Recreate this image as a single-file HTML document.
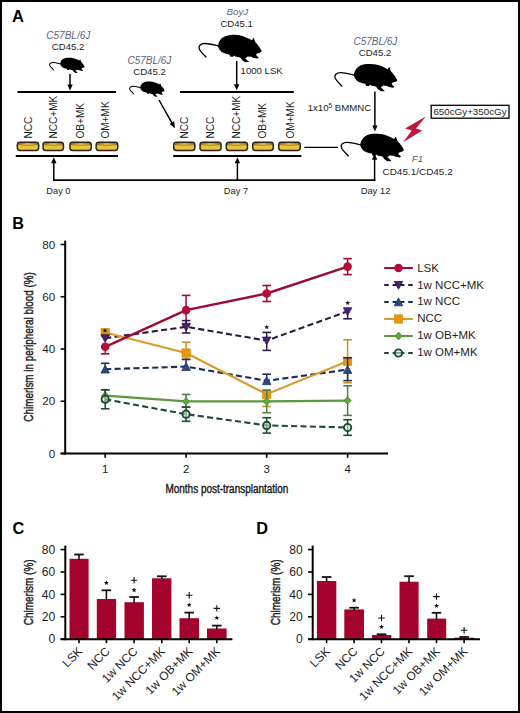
<!DOCTYPE html><html><head><meta charset="utf-8"><style>html,body{margin:0;padding:0;background:#fff;}svg{display:block;}</style></head><body>
<svg width="520" height="713" viewBox="0 0 520 713" font-family='"Liberation Sans", sans-serif'>
<rect x="0" y="0" width="520" height="713" fill="#fff"/>
<rect x="1" y="1" width="518" height="711" fill="none" stroke="#000" stroke-width="2"/>
<text x="12.1" y="22.0" font-size="16.5" text-anchor="start" fill="#000"  font-weight="bold"  >A</text>
<text x="68.3" y="38.6" font-size="10.0" text-anchor="middle" fill="#58637b"  font-weight="normal" font-style="italic" >C57BL/6J</text>
<text x="68.1" y="49.9" font-size="9.6" text-anchor="middle" fill="#1e1e1e"  font-weight="normal"  >CD45.2</text>
<g transform="translate(-61.27,38.19) scale(0.558)"><path d="M 217.8 45.7 C 218.5 42 220 39 222.5 37.5 C 225 35.8 228 35 231 34.9 C 235 34.8 238 35 240 35.4 C 244 36.2 248 38 251.8 40.2 L 253.4 37.5 L 255.2 42.3 C 256.5 43.5 257.5 44.6 258 45.7 C 259.2 47 260.2 48.4 260.8 49.8 C 261.4 50.6 261.5 51.3 261.2 51.8 C 260.5 52.5 259.5 52.8 258.7 52.9 L 255.9 54 L 256.6 56.1 L 258.7 57.4 L 257.3 58.6 L 253.2 57.9 L 251.1 56.8 L 247.6 56.5 L 244.9 58.2 L 247.6 60.7 L 249 62.1 L 244.9 62.3 L 242.1 60.3 L 240 57.5 L 235.1 56.5 L 233.8 55.6 L 233.1 56.8 L 230.3 56.8 L 229.3 54.7 C 227 54.2 225.5 53.8 224.1 53.3 C 222 52.5 220.5 51.5 219.8 50.3 C 218.8 49 218 47.5 217.8 45.7 Z" fill="#000"/><path d="M 218.6 46 C 214 45 209 43.4 204.5 43.5 C 200.5 43.6 198.3 45.7 198.9 48.3 C 199.6 51 202.6 53.8 205.8 56.9" fill="none" stroke="#000" stroke-width="1.8" stroke-linecap="round"/></g>
<line x1="70" y1="74" x2="70" y2="85.5" stroke="#000" stroke-width="1.5"/>
<path d="M 67.3 84.5 L 72.7 84.5 L 70 90.5 Z" fill="#000"/>
<line x1="17.5" y1="92.1" x2="116" y2="92.1" stroke="#000" stroke-width="2"/>
<rect x="17.35" y="142.25" width="21.299999999999997" height="8.199999999999989" rx="2.6" ry="2.6" fill="#e9bd2c" stroke="#2b2210" stroke-width="1.5"/>
<path d="M 18.200000000000003 143.7 Q 28.0 142.1 37.8 143.7 L 37.8 144.5 Q 28.0 145.9 18.200000000000003 144.5 Z" fill="#f5d458" stroke="#4a3812" stroke-width="0.55"/>
<rect x="18.6" y="146.5" width="18.799999999999997" height="2" fill="#f0cf4c" opacity="0.6"/>
<rect x="43.05" y="142.25" width="20.400000000000006" height="8.199999999999989" rx="2.6" ry="2.6" fill="#e9bd2c" stroke="#2b2210" stroke-width="1.5"/>
<path d="M 43.9 143.7 Q 53.25 142.1 62.6 143.7 L 62.6 144.5 Q 53.25 145.9 43.9 144.5 Z" fill="#f5d458" stroke="#4a3812" stroke-width="0.55"/>
<rect x="44.3" y="146.5" width="17.900000000000006" height="2" fill="#f0cf4c" opacity="0.6"/>
<rect x="69.95" y="142.25" width="21.299999999999997" height="8.199999999999989" rx="2.6" ry="2.6" fill="#e9bd2c" stroke="#2b2210" stroke-width="1.5"/>
<path d="M 70.8 143.7 Q 80.6 142.1 90.4 143.7 L 90.4 144.5 Q 80.6 145.9 70.8 144.5 Z" fill="#f5d458" stroke="#4a3812" stroke-width="0.55"/>
<rect x="71.2" y="146.5" width="18.799999999999997" height="2" fill="#f0cf4c" opacity="0.6"/>
<rect x="96.15" y="142.25" width="21.599999999999994" height="8.199999999999989" rx="2.6" ry="2.6" fill="#e9bd2c" stroke="#2b2210" stroke-width="1.5"/>
<path d="M 97.0 143.7 Q 106.95 142.1 116.9 143.7 L 116.9 144.5 Q 106.95 145.9 97.0 144.5 Z" fill="#f5d458" stroke="#4a3812" stroke-width="0.55"/>
<rect x="97.4" y="146.5" width="19.099999999999994" height="2" fill="#f0cf4c" opacity="0.6"/>
<line x1="15.8" y1="155.9" x2="118" y2="155.9" stroke="#000" stroke-width="2"/>
<text transform="translate(31.599999999999998,138.6) rotate(-90)" font-size="10.1" fill="#1e1e1e">NCC</text>
<text transform="translate(56.8,138.6) rotate(-90)" font-size="10.1" fill="#1e1e1e">NCC+MK</text>
<text transform="translate(83.7,138.6) rotate(-90)" font-size="10.1" fill="#1e1e1e">OB+MK</text>
<text transform="translate(109.4,138.6) rotate(-90)" font-size="10.1" fill="#1e1e1e">OM+MK</text>
<line x1="53.8" y1="162.2" x2="53.8" y2="181" stroke="#000" stroke-width="1.5"/>
<path d="M 51.099999999999994 163.2 L 56.5 163.2 L 53.8 157.2 Z" fill="#000"/>
<line x1="53.1" y1="180.2" x2="375.4" y2="180.2" stroke="#000" stroke-width="1.7"/>
<text x="58.4" y="193.7" font-size="9.3" text-anchor="middle" fill="#1e1e1e"  font-weight="normal"  >Day 0</text>
<text x="149.4" y="64.1" font-size="10.0" text-anchor="middle" fill="#58637b"  font-weight="normal" font-style="italic" >C57BL/6J</text>
<text x="149.5" y="75.4" font-size="9.6" text-anchor="middle" fill="#1e1e1e"  font-weight="normal"  >CD45.2</text>
<g transform="translate(18.73,62.09) scale(0.558)"><path d="M 217.8 45.7 C 218.5 42 220 39 222.5 37.5 C 225 35.8 228 35 231 34.9 C 235 34.8 238 35 240 35.4 C 244 36.2 248 38 251.8 40.2 L 253.4 37.5 L 255.2 42.3 C 256.5 43.5 257.5 44.6 258 45.7 C 259.2 47 260.2 48.4 260.8 49.8 C 261.4 50.6 261.5 51.3 261.2 51.8 C 260.5 52.5 259.5 52.8 258.7 52.9 L 255.9 54 L 256.6 56.1 L 258.7 57.4 L 257.3 58.6 L 253.2 57.9 L 251.1 56.8 L 247.6 56.5 L 244.9 58.2 L 247.6 60.7 L 249 62.1 L 244.9 62.3 L 242.1 60.3 L 240 57.5 L 235.1 56.5 L 233.8 55.6 L 233.1 56.8 L 230.3 56.8 L 229.3 54.7 C 227 54.2 225.5 53.8 224.1 53.3 C 222 52.5 220.5 51.5 219.8 50.3 C 218.8 49 218 47.5 217.8 45.7 Z" fill="#000"/><path d="M 218.6 46 C 214 45 209 43.4 204.5 43.5 C 200.5 43.6 198.3 45.7 198.9 48.3 C 199.6 51 202.6 53.8 205.8 56.9" fill="none" stroke="#000" stroke-width="1.8" stroke-linecap="round"/></g>
<line x1="159" y1="100" x2="172.3" y2="123.6" stroke="#000" stroke-width="1.5"/>
<path d="M 175 128.2 L 169.6 123.9 L 174.2 121.3 Z" fill="#000"/>
<text x="237.3" y="14.8" font-size="9.8" text-anchor="middle" fill="#58637b"  font-weight="normal" font-style="italic" >BoyJ</text>
<text x="236.7" y="27.1" font-size="9.6" text-anchor="middle" fill="#1e1e1e"  font-weight="normal"  >CD45.1</text>
<g transform="translate(0.20,0.00) scale(1.0)"><path d="M 217.8 45.7 C 218.5 42 220 39 222.5 37.5 C 225 35.8 228 35 231 34.9 C 235 34.8 238 35 240 35.4 C 244 36.2 248 38 251.8 40.2 L 253.4 37.5 L 255.2 42.3 C 256.5 43.5 257.5 44.6 258 45.7 C 259.2 47 260.2 48.4 260.8 49.8 C 261.4 50.6 261.5 51.3 261.2 51.8 C 260.5 52.5 259.5 52.8 258.7 52.9 L 255.9 54 L 256.6 56.1 L 258.7 57.4 L 257.3 58.6 L 253.2 57.9 L 251.1 56.8 L 247.6 56.5 L 244.9 58.2 L 247.6 60.7 L 249 62.1 L 244.9 62.3 L 242.1 60.3 L 240 57.5 L 235.1 56.5 L 233.8 55.6 L 233.1 56.8 L 230.3 56.8 L 229.3 54.7 C 227 54.2 225.5 53.8 224.1 53.3 C 222 52.5 220.5 51.5 219.8 50.3 C 218.8 49 218 47.5 217.8 45.7 Z" fill="#000"/><path d="M 218.6 46 C 214 45 209 43.4 204.5 43.5 C 200.5 43.6 198.3 45.7 198.9 48.3 C 199.6 51 202.6 53.8 205.8 56.9" fill="none" stroke="#000" stroke-width="1.35" stroke-linecap="round"/></g>
<line x1="236.7" y1="61" x2="236.7" y2="85.2" stroke="#000" stroke-width="1.5"/>
<path d="M 234.0 84.2 L 239.39999999999998 84.2 L 236.7 90.2 Z" fill="#000"/>
<text x="240.6" y="73.9" font-size="9.6" text-anchor="start" fill="#1e1e1e"  font-weight="normal"  >1000 LSK</text>
<line x1="180" y1="92.1" x2="293.8" y2="92.1" stroke="#000" stroke-width="2"/>
<rect x="173.75" y="142.25" width="21.099999999999994" height="8.199999999999989" rx="2.6" ry="2.6" fill="#e9bd2c" stroke="#2b2210" stroke-width="1.5"/>
<path d="M 174.6 143.7 Q 184.3 142.1 194.0 143.7 L 194.0 144.5 Q 184.3 145.9 174.6 144.5 Z" fill="#f5d458" stroke="#4a3812" stroke-width="0.55"/>
<rect x="175" y="146.5" width="18.599999999999994" height="2" fill="#f0cf4c" opacity="0.6"/>
<rect x="200.05" y="142.25" width="21.0" height="8.199999999999989" rx="2.6" ry="2.6" fill="#e9bd2c" stroke="#2b2210" stroke-width="1.5"/>
<path d="M 200.9 143.7 Q 210.55 142.1 220.20000000000002 143.7 L 220.20000000000002 144.5 Q 210.55 145.9 200.9 144.5 Z" fill="#f5d458" stroke="#4a3812" stroke-width="0.55"/>
<rect x="201.3" y="146.5" width="18.5" height="2" fill="#f0cf4c" opacity="0.6"/>
<rect x="226.25" y="142.25" width="21.19999999999999" height="8.199999999999989" rx="2.6" ry="2.6" fill="#e9bd2c" stroke="#2b2210" stroke-width="1.5"/>
<path d="M 227.1 143.7 Q 236.85 142.1 246.6 143.7 L 246.6 144.5 Q 236.85 145.9 227.1 144.5 Z" fill="#f5d458" stroke="#4a3812" stroke-width="0.55"/>
<rect x="227.5" y="146.5" width="18.69999999999999" height="2" fill="#f0cf4c" opacity="0.6"/>
<rect x="252.75" y="142.25" width="20.5" height="8.199999999999989" rx="2.6" ry="2.6" fill="#e9bd2c" stroke="#2b2210" stroke-width="1.5"/>
<path d="M 253.6 143.7 Q 263.0 142.1 272.4 143.7 L 272.4 144.5 Q 263.0 145.9 253.6 144.5 Z" fill="#f5d458" stroke="#4a3812" stroke-width="0.55"/>
<rect x="254" y="146.5" width="18" height="2" fill="#f0cf4c" opacity="0.6"/>
<rect x="278.75" y="142.25" width="21.5" height="8.199999999999989" rx="2.6" ry="2.6" fill="#e9bd2c" stroke="#2b2210" stroke-width="1.5"/>
<path d="M 279.6 143.7 Q 289.5 142.1 299.4 143.7 L 299.4 144.5 Q 289.5 145.9 279.6 144.5 Z" fill="#f5d458" stroke="#4a3812" stroke-width="0.55"/>
<rect x="280" y="146.5" width="19" height="2" fill="#f0cf4c" opacity="0.6"/>
<line x1="173.2" y1="155.9" x2="301.4" y2="155.9" stroke="#000" stroke-width="2"/>
<text transform="translate(187.8,138.6) rotate(-90)" font-size="10.1" fill="#1e1e1e">NCC</text>
<text transform="translate(214.20000000000002,138.6) rotate(-90)" font-size="10.1" fill="#1e1e1e">NCC</text>
<text transform="translate(239.9,138.6) rotate(-90)" font-size="10.1" fill="#1e1e1e">NCC+MK</text>
<text transform="translate(265.59999999999997,138.6) rotate(-90)" font-size="10.1" fill="#1e1e1e">OB+MK</text>
<text transform="translate(293.7,138.6) rotate(-90)" font-size="10.1" fill="#1e1e1e">OM+MK</text>
<line x1="237.4" y1="162.2" x2="237.4" y2="181" stroke="#000" stroke-width="1.5"/>
<path d="M 234.70000000000002 163.2 L 240.1 163.2 L 237.4 157.2 Z" fill="#000"/>
<text x="236" y="193.6" font-size="9.3" text-anchor="middle" fill="#1e1e1e"  font-weight="normal"  >Day 7</text>
<line x1="304.4" y1="147.4" x2="338" y2="147.4" stroke="#000" stroke-width="1.4"/>
<text x="375.4" y="44.9" font-size="10.0" text-anchor="middle" fill="#58637b"  font-weight="normal" font-style="italic" >C57BL/6J</text>
<text x="375" y="55.8" font-size="9.6" text-anchor="middle" fill="#1e1e1e"  font-weight="normal"  >CD45.2</text>
<g transform="translate(137.09,29.37) scale(0.995)"><path d="M 217.8 45.7 C 218.5 42 220 39 222.5 37.5 C 225 35.8 228 35 231 34.9 C 235 34.8 238 35 240 35.4 C 244 36.2 248 38 251.8 40.2 L 253.4 37.5 L 255.2 42.3 C 256.5 43.5 257.5 44.6 258 45.7 C 259.2 47 260.2 48.4 260.8 49.8 C 261.4 50.6 261.5 51.3 261.2 51.8 C 260.5 52.5 259.5 52.8 258.7 52.9 L 255.9 54 L 256.6 56.1 L 258.7 57.4 L 257.3 58.6 L 253.2 57.9 L 251.1 56.8 L 247.6 56.5 L 244.9 58.2 L 247.6 60.7 L 249 62.1 L 244.9 62.3 L 242.1 60.3 L 240 57.5 L 235.1 56.5 L 233.8 55.6 L 233.1 56.8 L 230.3 56.8 L 229.3 54.7 C 227 54.2 225.5 53.8 224.1 53.3 C 222 52.5 220.5 51.5 219.8 50.3 C 218.8 49 218 47.5 217.8 45.7 Z" fill="#000"/><path d="M 218.6 46 C 214 45 209 43.4 204.5 43.5 C 200.5 43.6 198.3 45.7 198.9 48.3 C 199.6 51 202.6 53.8 205.8 56.9" fill="none" stroke="#000" stroke-width="1.35" stroke-linecap="round"/></g>
<line x1="374.9" y1="91.4" x2="374.9" y2="126.6" stroke="#000" stroke-width="1.5"/>
<path d="M 372.2 125.6 L 377.59999999999997 125.6 L 374.9 131.6 Z" fill="#000"/>
<text x="307.7" y="111.3" font-size="9.6" fill="#1e1e1e">1x10<tspan font-size="6.6" dy="-3.6">5</tspan><tspan dy="3.6"> BMMNC</tspan></text>
<g transform="translate(142.40,98.90) scale(1.0)"><path d="M 217.8 45.7 C 218.5 42 220 39 222.5 37.5 C 225 35.8 228 35 231 34.9 C 235 34.8 238 35 240 35.4 C 244 36.2 248 38 251.8 40.2 L 253.4 37.5 L 255.2 42.3 C 256.5 43.5 257.5 44.6 258 45.7 C 259.2 47 260.2 48.4 260.8 49.8 C 261.4 50.6 261.5 51.3 261.2 51.8 C 260.5 52.5 259.5 52.8 258.7 52.9 L 255.9 54 L 256.6 56.1 L 258.7 57.4 L 257.3 58.6 L 253.2 57.9 L 251.1 56.8 L 247.6 56.5 L 244.9 58.2 L 247.6 60.7 L 249 62.1 L 244.9 62.3 L 242.1 60.3 L 240 57.5 L 235.1 56.5 L 233.8 55.6 L 233.1 56.8 L 230.3 56.8 L 229.3 54.7 C 227 54.2 225.5 53.8 224.1 53.3 C 222 52.5 220.5 51.5 219.8 50.3 C 218.8 49 218 47.5 217.8 45.7 Z" fill="#000"/><path d="M 218.6 46 C 214 45 209 43.4 204.5 43.5 C 200.5 43.6 198.3 45.7 198.9 48.3 C 199.6 51 202.6 53.8 205.8 56.9" fill="none" stroke="#000" stroke-width="1.35" stroke-linecap="round"/></g>
<line x1="374.6" y1="158.8" x2="374.6" y2="181" stroke="#000" stroke-width="1.5"/>
<path d="M 371.90000000000003 159.8 L 377.3 159.8 L 374.6 153.8 Z" fill="#000"/>
<text x="375.5" y="193.6" font-size="9.4" text-anchor="middle" fill="#1e1e1e"  font-weight="normal"  >Day 12</text>
<path d="M 425.8 116.5 L 405 128.5 L 411.8 130.4 L 403.1 142.3 L 422.3 130.4 L 416 128.5 Z" fill="#c0143c"/>
<rect x="431.2" y="105.3" width="77.8" height="12.9" fill="#fff" stroke="#000" stroke-width="1.3"/>
<text x="470" y="115.3" font-size="9.8" text-anchor="middle" fill="#1e1e1e"  font-weight="normal"  >650cGy+350cGy</text>
<text x="417.4" y="162.4" font-size="9.6" text-anchor="middle" fill="#5a5a5a"  font-weight="normal" font-style="italic" >F1</text>
<text x="417.6" y="174.5" font-size="9.95" text-anchor="middle" fill="#1e1e1e"  font-weight="normal"  >CD45.1/CD45.2</text>
<text x="12.3" y="228.9" font-size="16.3" text-anchor="start" fill="#000"  font-weight="bold"  >B</text>
<line x1="65.2" y1="240.6" x2="65.2" y2="454.5" stroke="#000" stroke-width="2"/>
<line x1="60.6" y1="453.5" x2="388" y2="453.5" stroke="#000" stroke-width="2"/>
<line x1="60.6" y1="453.50" x2="65.2" y2="453.50" stroke="#000" stroke-width="1.6"/>
<text x="55.2" y="457.50" font-size="11.7" text-anchor="end" fill="#1e1e1e"  font-weight="normal"  >0</text>
<line x1="60.6" y1="401.25" x2="65.2" y2="401.25" stroke="#000" stroke-width="1.6"/>
<text x="55.2" y="405.25" font-size="11.7" text-anchor="end" fill="#1e1e1e"  font-weight="normal"  >20</text>
<line x1="60.6" y1="349.00" x2="65.2" y2="349.00" stroke="#000" stroke-width="1.6"/>
<text x="55.2" y="353.00" font-size="11.7" text-anchor="end" fill="#1e1e1e"  font-weight="normal"  >40</text>
<line x1="60.6" y1="296.75" x2="65.2" y2="296.75" stroke="#000" stroke-width="1.6"/>
<text x="55.2" y="300.75" font-size="11.7" text-anchor="end" fill="#1e1e1e"  font-weight="normal"  >60</text>
<line x1="60.6" y1="244.50" x2="65.2" y2="244.50" stroke="#000" stroke-width="1.6"/>
<text x="55.2" y="248.50" font-size="11.7" text-anchor="end" fill="#1e1e1e"  font-weight="normal"  >80</text>
<line x1="105.2" y1="453.5" x2="105.2" y2="457.8" stroke="#000" stroke-width="1.6"/>
<text x="105.2" y="473" font-size="11.4" text-anchor="middle" fill="#1e1e1e"  font-weight="normal"  >1</text>
<line x1="186.1" y1="453.5" x2="186.1" y2="457.8" stroke="#000" stroke-width="1.6"/>
<text x="186.1" y="473" font-size="11.4" text-anchor="middle" fill="#1e1e1e"  font-weight="normal"  >2</text>
<line x1="266.7" y1="453.5" x2="266.7" y2="457.8" stroke="#000" stroke-width="1.6"/>
<text x="266.7" y="473" font-size="11.4" text-anchor="middle" fill="#1e1e1e"  font-weight="normal"  >3</text>
<line x1="347.6" y1="453.5" x2="347.6" y2="457.8" stroke="#000" stroke-width="1.6"/>
<text x="347.6" y="473" font-size="11.4" text-anchor="middle" fill="#1e1e1e"  font-weight="normal"  >4</text>
<text transform="translate(226.9,492.7) scale(0.755,1)" font-size="13.2" text-anchor="middle" fill="#1e1e1e" stroke="#1e1e1e" stroke-width="0.45">Months post-transplantation</text>
<text transform="translate(33,346.9) rotate(-90) scale(0.74,1)" font-size="13.4" text-anchor="middle" fill="#1e1e1e" stroke="#1e1e1e" stroke-width="0.45">Chimerism in peripheral blood (%)</text>
<polyline points="105.2,399.3 186.1,414.2 266.7,425.4 347.6,427.5" fill="none" stroke="#1e4a31" stroke-width="2.1" stroke-dasharray="6.1 3.3"/>
<polyline points="105.2,395.6 186.1,401.4 266.7,401.4 347.6,400.6" fill="none" stroke="#5e9642" stroke-width="2.1" />
<polyline points="105.2,338.2 186.1,326.8 266.7,340.6 347.6,311.3" fill="none" stroke="#2e1a40" stroke-width="2.1" stroke-dasharray="6.1 3.3"/>
<polyline points="105.2,369.2 186.1,366.6 266.7,380.8 347.6,369.6" fill="none" stroke="#1c2f5a" stroke-width="2.1" stroke-dasharray="6.1 3.3"/>
<polyline points="105.2,332.6 186.1,353 266.7,394.2 347.6,361.3" fill="none" stroke="#da9a2c" stroke-width="2.1" />
<polyline points="105.2,346.8 186.1,310.1 266.7,293.5 347.6,266.6" fill="none" stroke="#9c0b33" stroke-width="2.4" />
<line x1="105.2" y1="344.80" x2="105.2" y2="353.80" stroke="#9c0b33" stroke-width="1.5"/>
<line x1="100.9" y1="353.80" x2="109.5" y2="353.80" stroke="#9c0b33" stroke-width="1.6"/>
<line x1="186.1" y1="295.40" x2="186.1" y2="324.80" stroke="#9c0b33" stroke-width="1.5"/>
<line x1="181.79999999999998" y1="295.40" x2="190.4" y2="295.40" stroke="#9c0b33" stroke-width="1.6"/>
<line x1="181.79999999999998" y1="324.80" x2="190.4" y2="324.80" stroke="#9c0b33" stroke-width="1.6"/>
<line x1="266.7" y1="285.50" x2="266.7" y2="301.50" stroke="#9c0b33" stroke-width="1.5"/>
<line x1="262.4" y1="285.50" x2="271.0" y2="285.50" stroke="#9c0b33" stroke-width="1.6"/>
<line x1="262.4" y1="301.50" x2="271.0" y2="301.50" stroke="#9c0b33" stroke-width="1.6"/>
<line x1="347.6" y1="258.60" x2="347.6" y2="274.60" stroke="#9c0b33" stroke-width="1.5"/>
<line x1="343.3" y1="258.60" x2="351.90000000000003" y2="258.60" stroke="#9c0b33" stroke-width="1.6"/>
<line x1="343.3" y1="274.60" x2="351.90000000000003" y2="274.60" stroke="#9c0b33" stroke-width="1.6"/>
<circle cx="105.2" cy="346.80" r="4.3" fill="#b40c38"/>
<circle cx="186.1" cy="310.10" r="4.3" fill="#b40c38"/>
<circle cx="266.7" cy="293.50" r="4.3" fill="#b40c38"/>
<circle cx="347.6" cy="266.60" r="4.3" fill="#b40c38"/>
<line x1="105.2" y1="330.60" x2="105.2" y2="334.60" stroke="#d08f25" stroke-width="1.5"/>
<line x1="186.1" y1="342.20" x2="186.1" y2="359.40" stroke="#d08f25" stroke-width="1.5"/>
<line x1="181.79999999999998" y1="342.20" x2="190.4" y2="342.20" stroke="#d08f25" stroke-width="1.6"/>
<line x1="181.79999999999998" y1="359.40" x2="190.4" y2="359.40" stroke="#d08f25" stroke-width="1.6"/>
<line x1="266.7" y1="392.20" x2="266.7" y2="406.50" stroke="#d08f25" stroke-width="1.5"/>
<line x1="262.4" y1="406.50" x2="271.0" y2="406.50" stroke="#d08f25" stroke-width="1.6"/>
<line x1="347.6" y1="339.80" x2="347.6" y2="382.80" stroke="#d08f25" stroke-width="1.5"/>
<line x1="343.3" y1="339.80" x2="351.90000000000003" y2="339.80" stroke="#d08f25" stroke-width="1.6"/>
<line x1="343.3" y1="382.80" x2="351.90000000000003" y2="382.80" stroke="#d08f25" stroke-width="1.6"/>
<rect x="101.0" y="328.40" width="8.4" height="8.4" fill="#e8950f" stroke="#d08a10" stroke-width="0.6"/>
<rect x="181.9" y="348.80" width="8.4" height="8.4" fill="#e8950f" stroke="#d08a10" stroke-width="0.6"/>
<rect x="262.5" y="390.00" width="8.4" height="8.4" fill="#e8950f" stroke="#d08a10" stroke-width="0.6"/>
<rect x="343.40000000000003" y="357.10" width="8.4" height="8.4" fill="#e8950f" stroke="#d08a10" stroke-width="0.6"/>
<line x1="105.2" y1="363.30" x2="105.2" y2="371.20" stroke="#1c2f5a" stroke-width="1.5"/>
<line x1="100.9" y1="363.30" x2="109.5" y2="363.30" stroke="#1c2f5a" stroke-width="1.6"/>
<line x1="186.1" y1="359.40" x2="186.1" y2="368.60" stroke="#1c2f5a" stroke-width="1.5"/>
<line x1="181.79999999999998" y1="359.40" x2="190.4" y2="359.40" stroke="#1c2f5a" stroke-width="1.6"/>
<line x1="266.7" y1="374.20" x2="266.7" y2="382.80" stroke="#1c2f5a" stroke-width="1.5"/>
<line x1="262.4" y1="374.20" x2="271.0" y2="374.20" stroke="#1c2f5a" stroke-width="1.6"/>
<line x1="347.6" y1="357.80" x2="347.6" y2="380.60" stroke="#1c2f5a" stroke-width="1.5"/>
<line x1="343.3" y1="357.80" x2="351.90000000000003" y2="357.80" stroke="#1c2f5a" stroke-width="1.6"/>
<line x1="343.3" y1="380.60" x2="351.90000000000003" y2="380.60" stroke="#1c2f5a" stroke-width="1.6"/>
<path d="M 101.0 373.00 L 109.4 373.00 L 105.2 365.10 Z" fill="#2b4b82" stroke="#1b2d55" stroke-width="0.8"/>
<path d="M 181.9 370.40 L 190.29999999999998 370.40 L 186.1 362.50 Z" fill="#2b4b82" stroke="#1b2d55" stroke-width="0.8"/>
<path d="M 262.5 384.60 L 270.9 384.60 L 266.7 376.70 Z" fill="#2b4b82" stroke="#1b2d55" stroke-width="0.8"/>
<path d="M 343.40000000000003 373.40 L 351.8 373.40 L 347.6 365.50 Z" fill="#2b4b82" stroke="#1b2d55" stroke-width="0.8"/>
<line x1="105.2" y1="337.20" x2="105.2" y2="339.20" stroke="#2e1a40" stroke-width="1.5"/>
<line x1="186.1" y1="320.60" x2="186.1" y2="333.00" stroke="#2e1a40" stroke-width="1.5"/>
<line x1="181.79999999999998" y1="320.60" x2="190.4" y2="320.60" stroke="#2e1a40" stroke-width="1.6"/>
<line x1="181.79999999999998" y1="333.00" x2="190.4" y2="333.00" stroke="#2e1a40" stroke-width="1.6"/>
<line x1="266.7" y1="332.40" x2="266.7" y2="350.40" stroke="#2e1a40" stroke-width="1.5"/>
<line x1="262.4" y1="332.40" x2="271.0" y2="332.40" stroke="#2e1a40" stroke-width="1.6"/>
<line x1="262.4" y1="350.40" x2="271.0" y2="350.40" stroke="#2e1a40" stroke-width="1.6"/>
<line x1="347.6" y1="309.30" x2="347.6" y2="318.80" stroke="#2e1a40" stroke-width="1.5"/>
<line x1="343.3" y1="318.80" x2="351.90000000000003" y2="318.80" stroke="#2e1a40" stroke-width="1.6"/>
<path d="M 101.0 334.70 L 109.4 334.70 L 105.2 342.40 Z" fill="#4b2373" stroke="#2b1245" stroke-width="0.8" stroke-linejoin="miter"/>
<path d="M 181.9 323.30 L 190.29999999999998 323.30 L 186.1 331.00 Z" fill="#4b2373" stroke="#2b1245" stroke-width="0.8" stroke-linejoin="miter"/>
<path d="M 262.5 337.10 L 270.9 337.10 L 266.7 344.80 Z" fill="#4b2373" stroke="#2b1245" stroke-width="0.8" stroke-linejoin="miter"/>
<path d="M 343.40000000000003 307.80 L 351.8 307.80 L 347.6 315.50 Z" fill="#4b2373" stroke="#2b1245" stroke-width="0.8" stroke-linejoin="miter"/>
<line x1="105.2" y1="389.80" x2="105.2" y2="401.40" stroke="#557a45" stroke-width="1.5"/>
<line x1="100.9" y1="389.80" x2="109.5" y2="389.80" stroke="#557a45" stroke-width="1.6"/>
<line x1="100.9" y1="401.40" x2="109.5" y2="401.40" stroke="#557a45" stroke-width="1.6"/>
<line x1="186.1" y1="394.40" x2="186.1" y2="407.20" stroke="#557a45" stroke-width="1.5"/>
<line x1="181.79999999999998" y1="394.40" x2="190.4" y2="394.40" stroke="#557a45" stroke-width="1.6"/>
<line x1="181.79999999999998" y1="407.20" x2="190.4" y2="407.20" stroke="#557a45" stroke-width="1.6"/>
<line x1="266.7" y1="390.10" x2="266.7" y2="412.70" stroke="#557a45" stroke-width="1.5"/>
<line x1="262.4" y1="390.10" x2="271.0" y2="390.10" stroke="#557a45" stroke-width="1.6"/>
<line x1="262.4" y1="412.70" x2="271.0" y2="412.70" stroke="#557a45" stroke-width="1.6"/>
<line x1="347.6" y1="385.80" x2="347.6" y2="415.40" stroke="#557a45" stroke-width="1.5"/>
<line x1="343.3" y1="385.80" x2="351.90000000000003" y2="385.80" stroke="#557a45" stroke-width="1.6"/>
<line x1="343.3" y1="415.40" x2="351.90000000000003" y2="415.40" stroke="#557a45" stroke-width="1.6"/>
<path d="M 105.2 391.70 L 108.7 395.60 L 105.2 399.50 L 101.7 395.60 Z" fill="#5cab3c" stroke="#3f7d2e" stroke-width="0.7"/>
<path d="M 186.1 397.50 L 189.6 401.40 L 186.1 405.30 L 182.6 401.40 Z" fill="#5cab3c" stroke="#3f7d2e" stroke-width="0.7"/>
<path d="M 266.7 397.50 L 270.2 401.40 L 266.7 405.30 L 263.2 401.40 Z" fill="#5cab3c" stroke="#3f7d2e" stroke-width="0.7"/>
<path d="M 347.6 396.70 L 351.1 400.60 L 347.6 404.50 L 344.1 400.60 Z" fill="#5cab3c" stroke="#3f7d2e" stroke-width="0.7"/>
<line x1="105.2" y1="389.80" x2="105.2" y2="408.80" stroke="#1e4a31" stroke-width="1.5"/>
<line x1="100.9" y1="389.80" x2="109.5" y2="389.80" stroke="#1e4a31" stroke-width="1.6"/>
<line x1="100.9" y1="408.80" x2="109.5" y2="408.80" stroke="#1e4a31" stroke-width="1.6"/>
<line x1="186.1" y1="407.10" x2="186.1" y2="421.30" stroke="#1e4a31" stroke-width="1.5"/>
<line x1="181.79999999999998" y1="407.10" x2="190.4" y2="407.10" stroke="#1e4a31" stroke-width="1.6"/>
<line x1="181.79999999999998" y1="421.30" x2="190.4" y2="421.30" stroke="#1e4a31" stroke-width="1.6"/>
<line x1="266.7" y1="417.70" x2="266.7" y2="433.10" stroke="#1e4a31" stroke-width="1.5"/>
<line x1="262.4" y1="417.70" x2="271.0" y2="417.70" stroke="#1e4a31" stroke-width="1.6"/>
<line x1="262.4" y1="433.10" x2="271.0" y2="433.10" stroke="#1e4a31" stroke-width="1.6"/>
<line x1="347.6" y1="419.70" x2="347.6" y2="435.30" stroke="#1e4a31" stroke-width="1.5"/>
<line x1="343.3" y1="419.70" x2="351.90000000000003" y2="419.70" stroke="#1e4a31" stroke-width="1.6"/>
<line x1="343.3" y1="435.30" x2="351.90000000000003" y2="435.30" stroke="#1e4a31" stroke-width="1.6"/>
<circle cx="105.2" cy="399.30" r="3.65" fill="#d8f2e6" fill-opacity="0.55" stroke="#1e4a31" stroke-width="1.9"/>
<circle cx="186.1" cy="414.20" r="3.65" fill="#d8f2e6" fill-opacity="0.55" stroke="#1e4a31" stroke-width="1.9"/>
<circle cx="266.7" cy="425.40" r="3.65" fill="#d8f2e6" fill-opacity="0.55" stroke="#1e4a31" stroke-width="1.9"/>
<circle cx="347.6" cy="427.50" r="3.65" fill="#d8f2e6" fill-opacity="0.55" stroke="#1e4a31" stroke-width="1.9"/>
<polygon points="105.00,328.10 105.62,329.75 107.38,329.83 106.00,330.92 106.47,332.62 105.00,331.65 103.53,332.62 104.00,330.92 102.62,329.83 104.38,329.75" fill="#111"/>
<polygon points="266.70,324.57 267.35,326.31 269.20,326.39 267.75,327.54 268.24,329.32 266.70,328.30 265.16,329.32 265.65,327.54 264.20,326.39 266.05,326.31" fill="#111"/>
<polygon points="347.70,300.38 348.35,302.11 350.20,302.19 348.75,303.34 349.24,305.12 347.70,304.10 346.16,305.12 346.65,303.34 345.20,302.19 347.05,302.11" fill="#111"/>
<line x1="384.2" y1="268" x2="412.8" y2="268" stroke="#9c0b33" stroke-width="2"/>
<circle cx="398.5" cy="268.00" r="4.3" fill="#b40c38"/>
<text x="417.2" y="271.70" font-size="11.5" text-anchor="start" fill="#1e1e1e"  font-weight="normal"  >LSK</text>
<line x1="384.2" y1="285" x2="388.8" y2="285" stroke="#2e1a40" stroke-width="2"/>
<line x1="392.6" y1="285" x2="404.4" y2="285" stroke="#2e1a40" stroke-width="2"/>
<line x1="408.2" y1="285" x2="412.8" y2="285" stroke="#2e1a40" stroke-width="2"/>
<path d="M 394.3 281.50 L 402.7 281.50 L 398.5 289.20 Z" fill="#4b2373" stroke="#2b1245" stroke-width="0.8" stroke-linejoin="miter"/>
<text x="417.2" y="288.50" font-size="11.5" text-anchor="start" fill="#1e1e1e"  font-weight="normal"  >1w NCC+MK</text>
<line x1="384.2" y1="302" x2="388.8" y2="302" stroke="#1c2f5a" stroke-width="2"/>
<line x1="392.6" y1="302" x2="404.4" y2="302" stroke="#1c2f5a" stroke-width="2"/>
<line x1="408.2" y1="302" x2="412.8" y2="302" stroke="#1c2f5a" stroke-width="2"/>
<path d="M 394.3 305.80 L 402.7 305.80 L 398.5 297.90 Z" fill="#2b4b82" stroke="#1b2d55" stroke-width="0.8"/>
<text x="417.2" y="305.30" font-size="11.5" text-anchor="start" fill="#1e1e1e"  font-weight="normal"  >1w NCC</text>
<line x1="384.2" y1="319" x2="412.8" y2="319" stroke="#da9a2c" stroke-width="2"/>
<rect x="394.3" y="314.80" width="8.4" height="8.4" fill="#e8950f" stroke="#d08a10" stroke-width="0.6"/>
<text x="417.2" y="322.20" font-size="11.5" text-anchor="start" fill="#1e1e1e"  font-weight="normal"  >NCC</text>
<line x1="384.2" y1="336" x2="412.8" y2="336" stroke="#5e9642" stroke-width="2"/>
<path d="M 398.5 332.10 L 402.0 336.00 L 398.5 339.90 L 395.0 336.00 Z" fill="#5cab3c" stroke="#3f7d2e" stroke-width="0.7"/>
<text x="417.2" y="339.00" font-size="11.5" text-anchor="start" fill="#1e1e1e"  font-weight="normal"  >1w OB+MK</text>
<line x1="384.2" y1="353" x2="388.8" y2="353" stroke="#1e4a31" stroke-width="2"/>
<line x1="392.6" y1="353" x2="404.4" y2="353" stroke="#1e4a31" stroke-width="2"/>
<line x1="408.2" y1="353" x2="412.8" y2="353" stroke="#1e4a31" stroke-width="2"/>
<circle cx="398.5" cy="353.00" r="3.65" fill="#d8f2e6" fill-opacity="0.55" stroke="#1e4a31" stroke-width="1.9"/>
<text x="417.2" y="355.90" font-size="11.5" text-anchor="start" fill="#1e1e1e"  font-weight="normal"  >1w OM+MK</text>
<text x="12.4" y="534.4" font-size="16.3" text-anchor="start" fill="#000"  font-weight="bold"  >C</text>
<line x1="65.3" y1="545.6" x2="65.3" y2="640.2" stroke="#000" stroke-width="2"/>
<line x1="60.599999999999994" y1="639.20" x2="65.3" y2="639.20" stroke="#000" stroke-width="1.6"/>
<text x="55.3" y="643.40" font-size="12.1" text-anchor="end" fill="#1e1e1e"  font-weight="normal"  >0</text>
<line x1="60.599999999999994" y1="616.79" x2="65.3" y2="616.79" stroke="#000" stroke-width="1.6"/>
<text x="55.3" y="620.99" font-size="12.1" text-anchor="end" fill="#1e1e1e"  font-weight="normal"  >20</text>
<line x1="60.599999999999994" y1="594.38" x2="65.3" y2="594.38" stroke="#000" stroke-width="1.6"/>
<text x="55.3" y="598.58" font-size="12.1" text-anchor="end" fill="#1e1e1e"  font-weight="normal"  >40</text>
<line x1="60.599999999999994" y1="571.97" x2="65.3" y2="571.97" stroke="#000" stroke-width="1.6"/>
<text x="55.3" y="576.17" font-size="12.1" text-anchor="end" fill="#1e1e1e"  font-weight="normal"  >60</text>
<line x1="60.599999999999994" y1="549.56" x2="65.3" y2="549.56" stroke="#000" stroke-width="1.6"/>
<text x="55.3" y="553.76" font-size="12.1" text-anchor="end" fill="#1e1e1e"  font-weight="normal"  >80</text>
<rect x="69.5" y="558.8" width="19.099999999999994" height="80.40000000000009" fill="#a4032d"/>
<line x1="79" y1="554.5" x2="79" y2="559.8" stroke="#111" stroke-width="1.6"/>
<line x1="74.2" y1="554.5" x2="83.8" y2="554.5" stroke="#111" stroke-width="1.8"/>
<rect x="96.8" y="599" width="19.299999999999997" height="40.200000000000045" fill="#a4032d"/>
<line x1="106.4" y1="590.3" x2="106.4" y2="600" stroke="#111" stroke-width="1.6"/>
<line x1="101.60000000000001" y1="590.3" x2="111.2" y2="590.3" stroke="#111" stroke-width="1.8"/>
<rect x="124.5" y="602.2" width="19.400000000000006" height="37.0" fill="#a4032d"/>
<line x1="134.1" y1="597" x2="134.1" y2="603.2" stroke="#111" stroke-width="1.6"/>
<line x1="129.29999999999998" y1="597" x2="138.9" y2="597" stroke="#111" stroke-width="1.8"/>
<rect x="152" y="578.3" width="19.400000000000006" height="60.90000000000009" fill="#a4032d"/>
<line x1="161.8" y1="576.3" x2="161.8" y2="579.3" stroke="#111" stroke-width="1.6"/>
<line x1="157.0" y1="576.3" x2="166.60000000000002" y2="576.3" stroke="#111" stroke-width="1.8"/>
<rect x="179.5" y="618.2" width="19.5" height="21.0" fill="#a4032d"/>
<line x1="189.2" y1="612.6" x2="189.2" y2="619.2" stroke="#111" stroke-width="1.6"/>
<line x1="184.39999999999998" y1="612.6" x2="194.0" y2="612.6" stroke="#111" stroke-width="1.8"/>
<rect x="207" y="628.5" width="19.599999999999994" height="10.700000000000045" fill="#a4032d"/>
<line x1="216.8" y1="625.6" x2="216.8" y2="629.5" stroke="#111" stroke-width="1.6"/>
<line x1="212.0" y1="625.6" x2="221.60000000000002" y2="625.6" stroke="#111" stroke-width="1.8"/>
<line x1="60.599999999999994" y1="639.2" x2="232.4" y2="639.2" stroke="#000" stroke-width="2"/>
<line x1="79" y1="639.2" x2="79" y2="643.2" stroke="#000" stroke-width="1.6"/>
<text transform="translate(83.20,652.0) rotate(-45)" font-size="12" text-anchor="end" fill="#1e1e1e">LSK</text>
<line x1="106.4" y1="639.2" x2="106.4" y2="643.2" stroke="#000" stroke-width="1.6"/>
<text transform="translate(110.60,652.0) rotate(-45)" font-size="12" text-anchor="end" fill="#1e1e1e">NCC</text>
<line x1="134.1" y1="639.2" x2="134.1" y2="643.2" stroke="#000" stroke-width="1.6"/>
<text transform="translate(138.30,652.0) rotate(-45)" font-size="12" text-anchor="end" fill="#1e1e1e">1w NCC</text>
<line x1="161.8" y1="639.2" x2="161.8" y2="643.2" stroke="#000" stroke-width="1.6"/>
<text transform="translate(166.00,652.0) rotate(-45)" font-size="12" text-anchor="end" fill="#1e1e1e">1w NCC+MK</text>
<line x1="189.2" y1="639.2" x2="189.2" y2="643.2" stroke="#000" stroke-width="1.6"/>
<text transform="translate(193.40,652.0) rotate(-45)" font-size="12" text-anchor="end" fill="#1e1e1e">1w OB+MK</text>
<line x1="216.8" y1="639.2" x2="216.8" y2="643.2" stroke="#000" stroke-width="1.6"/>
<text transform="translate(221.00,652.0) rotate(-45)" font-size="12" text-anchor="end" fill="#1e1e1e">1w OM+MK</text>
<polygon points="106.40,580.27 107.05,582.01 108.90,582.09 107.45,583.24 107.94,585.02 106.40,584.00 104.86,585.02 105.35,583.24 103.90,582.09 105.75,582.01" fill="#111"/>
<path d="M 130.9 580.2 L 137.29999999999998 580.2 M 134.1 577.0 L 134.1 583.4000000000001" stroke="#111" stroke-width="1.1"/>
<polygon points="134.10,587.48 134.75,589.21 136.60,589.29 135.15,590.44 135.64,592.22 134.10,591.20 132.56,592.22 133.05,590.44 131.60,589.29 133.45,589.21" fill="#111"/>
<path d="M 186.0 595.3 L 192.39999999999998 595.3 M 189.2 592.0999999999999 L 189.2 598.5" stroke="#111" stroke-width="1.1"/>
<polygon points="189.20,602.38 189.85,604.11 191.70,604.19 190.25,605.34 190.74,607.12 189.20,606.10 187.66,607.12 188.15,605.34 186.70,604.19 188.55,604.11" fill="#111"/>
<path d="M 213.60000000000002 608.4 L 220.0 608.4 M 216.8 605.1999999999999 L 216.8 611.6" stroke="#111" stroke-width="1.1"/>
<polygon points="216.80,615.38 217.45,617.11 219.30,617.19 217.85,618.34 218.34,620.12 216.80,619.10 215.26,620.12 215.75,618.34 214.30,617.19 216.15,617.11" fill="#111"/>
<text transform="translate(33.4,592.3) rotate(-90) scale(0.76,1)" font-size="13.1" text-anchor="middle" fill="#1e1e1e" stroke="#1e1e1e" stroke-width="0.45">Chimerism (%)</text>
<text x="256.2" y="534.4" font-size="16.3" text-anchor="start" fill="#000"  font-weight="bold"  >D</text>
<line x1="312.7" y1="545.6" x2="312.7" y2="640.2" stroke="#000" stroke-width="2"/>
<line x1="308.0" y1="639.20" x2="312.7" y2="639.20" stroke="#000" stroke-width="1.6"/>
<text x="302.7" y="643.40" font-size="12.1" text-anchor="end" fill="#1e1e1e"  font-weight="normal"  >0</text>
<line x1="308.0" y1="616.79" x2="312.7" y2="616.79" stroke="#000" stroke-width="1.6"/>
<text x="302.7" y="620.99" font-size="12.1" text-anchor="end" fill="#1e1e1e"  font-weight="normal"  >20</text>
<line x1="308.0" y1="594.38" x2="312.7" y2="594.38" stroke="#000" stroke-width="1.6"/>
<text x="302.7" y="598.58" font-size="12.1" text-anchor="end" fill="#1e1e1e"  font-weight="normal"  >40</text>
<line x1="308.0" y1="571.97" x2="312.7" y2="571.97" stroke="#000" stroke-width="1.6"/>
<text x="302.7" y="576.17" font-size="12.1" text-anchor="end" fill="#1e1e1e"  font-weight="normal"  >60</text>
<line x1="308.0" y1="549.56" x2="312.7" y2="549.56" stroke="#000" stroke-width="1.6"/>
<text x="302.7" y="553.76" font-size="12.1" text-anchor="end" fill="#1e1e1e"  font-weight="normal"  >80</text>
<rect x="316.9" y="581" width="19.400000000000034" height="58.200000000000045" fill="#a4032d"/>
<line x1="326.6" y1="577" x2="326.6" y2="582" stroke="#111" stroke-width="1.6"/>
<line x1="321.8" y1="577" x2="331.40000000000003" y2="577" stroke="#111" stroke-width="1.8"/>
<rect x="344.3" y="609.4" width="19.69999999999999" height="29.800000000000068" fill="#a4032d"/>
<line x1="354.1" y1="607.7" x2="354.1" y2="610.4" stroke="#111" stroke-width="1.6"/>
<line x1="349.3" y1="607.7" x2="358.90000000000003" y2="607.7" stroke="#111" stroke-width="1.8"/>
<rect x="372" y="635" width="19.30000000000001" height="4.2000000000000455" fill="#a4032d"/>
<line x1="381.5" y1="634.3" x2="381.5" y2="636" stroke="#111" stroke-width="1.6"/>
<line x1="376.7" y1="634.3" x2="386.3" y2="634.3" stroke="#111" stroke-width="1.8"/>
<rect x="399.5" y="581.7" width="19.100000000000023" height="57.5" fill="#a4032d"/>
<line x1="409" y1="576.2" x2="409" y2="582.7" stroke="#111" stroke-width="1.6"/>
<line x1="404.2" y1="576.2" x2="413.8" y2="576.2" stroke="#111" stroke-width="1.8"/>
<rect x="427.2" y="618.6" width="19.0" height="20.600000000000023" fill="#a4032d"/>
<line x1="436.5" y1="612.8" x2="436.5" y2="619.6" stroke="#111" stroke-width="1.6"/>
<line x1="431.7" y1="612.8" x2="441.3" y2="612.8" stroke="#111" stroke-width="1.8"/>
<rect x="454.5" y="637.7" width="19.5" height="1.5" fill="#a4032d"/>
<line x1="464.1" y1="637" x2="464.1" y2="638.7" stroke="#111" stroke-width="1.6"/>
<line x1="459.3" y1="637" x2="468.90000000000003" y2="637" stroke="#111" stroke-width="1.8"/>
<line x1="308.0" y1="639.2" x2="480" y2="639.2" stroke="#000" stroke-width="2"/>
<line x1="326.6" y1="639.2" x2="326.6" y2="643.2" stroke="#000" stroke-width="1.6"/>
<text transform="translate(330.80,652.0) rotate(-45)" font-size="12" text-anchor="end" fill="#1e1e1e">LSK</text>
<line x1="354.1" y1="639.2" x2="354.1" y2="643.2" stroke="#000" stroke-width="1.6"/>
<text transform="translate(358.30,652.0) rotate(-45)" font-size="12" text-anchor="end" fill="#1e1e1e">NCC</text>
<line x1="381.5" y1="639.2" x2="381.5" y2="643.2" stroke="#000" stroke-width="1.6"/>
<text transform="translate(385.70,652.0) rotate(-45)" font-size="12" text-anchor="end" fill="#1e1e1e">1w NCC</text>
<line x1="409" y1="639.2" x2="409" y2="643.2" stroke="#000" stroke-width="1.6"/>
<text transform="translate(413.20,652.0) rotate(-45)" font-size="12" text-anchor="end" fill="#1e1e1e">1w NCC+MK</text>
<line x1="436.5" y1="639.2" x2="436.5" y2="643.2" stroke="#000" stroke-width="1.6"/>
<text transform="translate(440.70,652.0) rotate(-45)" font-size="12" text-anchor="end" fill="#1e1e1e">1w OB+MK</text>
<line x1="464.1" y1="639.2" x2="464.1" y2="643.2" stroke="#000" stroke-width="1.6"/>
<text transform="translate(468.30,652.0) rotate(-45)" font-size="12" text-anchor="end" fill="#1e1e1e">1w OM+MK</text>
<polygon points="354.10,597.77 354.75,599.51 356.60,599.59 355.15,600.74 355.64,602.52 354.10,601.50 352.56,602.52 353.05,600.74 351.60,599.59 353.45,599.51" fill="#111"/>
<path d="M 378.3 618 L 384.7 618 M 381.5 614.8 L 381.5 621.2" stroke="#111" stroke-width="1.1"/>
<polygon points="381.50,624.27 382.15,626.01 384.00,626.09 382.55,627.24 383.04,629.02 381.50,628.00 379.96,629.02 380.45,627.24 379.00,626.09 380.85,626.01" fill="#111"/>
<path d="M 433.3 596.6 L 439.7 596.6 M 436.5 593.4 L 436.5 599.8000000000001" stroke="#111" stroke-width="1.1"/>
<polygon points="436.50,603.27 437.15,605.01 439.00,605.09 437.55,606.24 438.04,608.02 436.50,607.00 434.96,608.02 435.45,606.24 434.00,605.09 435.85,605.01" fill="#111"/>
<path d="M 460.90000000000003 630.3 L 467.3 630.3 M 464.1 627.0999999999999 L 464.1 633.5" stroke="#111" stroke-width="1.1"/>
<text transform="translate(280.0,592.3) rotate(-90) scale(0.76,1)" font-size="13.1" text-anchor="middle" fill="#1e1e1e" stroke="#1e1e1e" stroke-width="0.45">Chimerism (%)</text>
</svg></body></html>
